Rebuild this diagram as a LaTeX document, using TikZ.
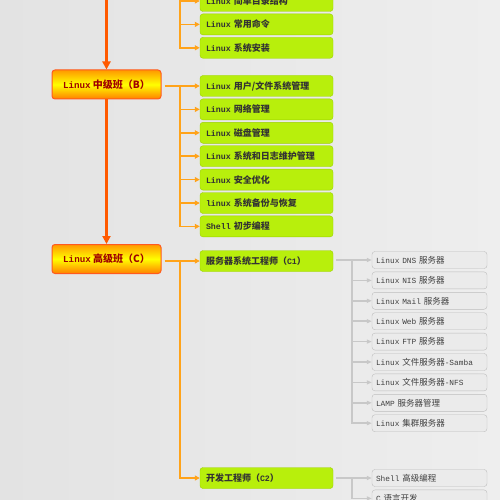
\documentclass[tikz,border=0pt]{standalone}
\usepackage{fontspec}
\setmainfont{Noto Sans CJK SC}
\newfontfamily\latfont{Liberation Mono}[Scale=0.92]
\usetikzlibrary{positioning,arrows.meta}

\definecolor{bgleft}{HTML}{E3E3E3}
\definecolor{bgright}{HTML}{EEEEEE}
\definecolor{mainline}{HTML}{FF5A00}
\definecolor{brline}{HTML}{FFA31A}
\definecolor{grline}{HTML}{C8C8C8}
\definecolor{lvlborder}{HTML}{FF5A1E}
\definecolor{lvltext}{HTML}{A00000}
\definecolor{topicfill}{HTML}{B8EF0C}
\definecolor{topicborder}{HTML}{9BD000}
\definecolor{subfill}{HTML}{EBEBEB}
\definecolor{subborder}{HTML}{BDBDBD}

\newcommand\lat[1]{{\latfont #1}}

\begin{document}
\begin{tikzpicture}[x=1pt, y=-1pt,
          lvl/.style={rectangle, draw=lvlborder, line width=1pt, rounded corners=3pt,
              top color=orange!80!yellow, bottom color=orange, middle color=yellow,
              minimum width=109pt, minimum height=29pt, inner sep=0pt,
              font=\fontsize{10}{12}\selectfont\bfseries, text=lvltext},
          topic/.style={rectangle, draw=topicborder, rounded corners=3pt,
              fill=topicfill, minimum width=133pt, minimum height=21pt,
              text width=121pt, inner xsep=6pt, inner ysep=0pt, align=left,
              font=\fontsize{9}{10}\selectfont\bfseries, text=black!80},
          sub/.style={rectangle, draw=subborder, rounded corners=3pt,
              fill=subfill, minimum width=115pt, minimum height=17pt,
              text width=107pt, inner xsep=4pt, inner ysep=0pt, align=left,
              font=\fontsize{8.5}{10}\selectfont, text=black!75},
          mainarr/.style={-{Triangle[length=8pt,width=8pt]}, line width=3pt, mainline},
          brarr/.style={-{Triangle[length=5pt,width=5pt]}, line width=1.6pt, brline,
              shorten <=3pt},
          grarr/.style={-{Triangle[length=5pt,width=4pt]}, line width=1.6pt, grline,
              shorten <=3pt}
        ]
        \useasboundingbox (0,0) rectangle (500,500);
        \shade[left color=bgleft, right color=bgright] (0,0) rectangle (500,500);
        \clip (0,0) rectangle (500,500);

        % levels
        \coordinate (A) at (106.5,-10);
        \node[lvl] (B) at (106.5,84.5) {\lat{Linux} 中级班（B）};
        \node[lvl] (C) at (106.5,259)  {\lat{Linux} 高级班（C）};
        \draw[mainarr] (A) -- (B);
        \draw[mainarr] (B) -- (C);

        % first level topics
        \node[topic] (a1) at (266.5,1) {\lat{Linux} 简单目录结构};
        \node[topic, below=2pt of a1] (a2) {\lat{Linux} 常用命令};
        \node[topic, below=2pt of a2] (a3) {\lat{Linux} 系统安装};
        \coordinate (aj) at (180,-12);
        \draw[brarr] (aj) |- (a1);
        \draw[brarr] (aj) |- (a2);
        \draw[brarr] (aj) |- (a3);

        % B topics
        \node[topic] (b1) at (266.5,86) {\lat{Linux} 用户/文件系统管理};
        \node[topic, below=2pt of b1] (b2) {\lat{Linux} 网络管理};
        \node[topic, below=2pt of b2] (b3) {\lat{Linux} 磁盘管理};
        \node[topic, below=2pt of b3] (b4) {\lat{Linux} 系统和日志维护管理};
        \node[topic, below=2pt of b4] (b5) {\lat{Linux} 安全优化};
        \node[topic, below=2pt of b5] (b6) {\lat{linux} 系统备份与恢复};
        \node[topic, below=2pt of b6] (b7) {\lat{Shell} 初步编程};
        \coordinate (bj) at (180,86);
        \draw[brarr] (B.east |- b1) -- (b1);
        \foreach \k in {2,...,7}
          \draw[brarr, shorten <=0pt] (bj) |- (b\k);

        % C topics
        \node[topic] (c1) at (266.5,261) {服务器系统工程师（\lat{C1}）};
        \node[topic] (c2) at (266.5,478) {开发工程师（\lat{C2}）};
        \coordinate (cj) at (180,261);
        \draw[brarr] (C.east |- c1) -- (c1);
        \draw[brarr, shorten <=0pt] (cj) |- (c2);

        % C1 subjects
        \node[sub] (s1) at (429.5,260) {\lat{Linux DNS }服务器};
        \node[sub, below=3pt of s1] (s2) {\lat{Linux NIS }服务器};
        \node[sub, below=3pt of s2] (s3) {\lat{Linux Mail }服务器};
        \node[sub, below=3pt of s3] (s4) {\lat{Linux Web }服务器};
        \node[sub, below=3pt of s4] (s5) {\lat{Linux FTP }服务器};
        \node[sub, below=3pt of s5] (s6) {\lat{Linux }文件服务器\lat{-Samba}};
        \node[sub, below=3pt of s6] (s7) {\lat{Linux }文件服务器\lat{-NFS}};
        \node[sub, below=3pt of s7] (s8) {\lat{LAMP }服务器管理};
        \node[sub, below=3pt of s8] (s9) {\lat{Linux }集群服务器};
        \coordinate (sj) at (352,260);
        \draw[grarr] (c1.east |- s1) -- (s1);
        \foreach \k in {2,...,9}
          \draw[grarr, shorten <=0pt] (sj) |- (s\k);

        % C2 subjects
        \node[sub] (d1) at (429.5,478) {\lat{Shell }高级编程};
        \node[sub, below=3pt of d1] (d2) {\lat{C }语言开发};
        \coordinate (dj) at (352,478);
        \draw[grarr] (c2.east |- d1) -- (d1);
        \draw[grarr, shorten <=0pt] (dj) |- (d2);
      \end{tikzpicture}
\end{document}
